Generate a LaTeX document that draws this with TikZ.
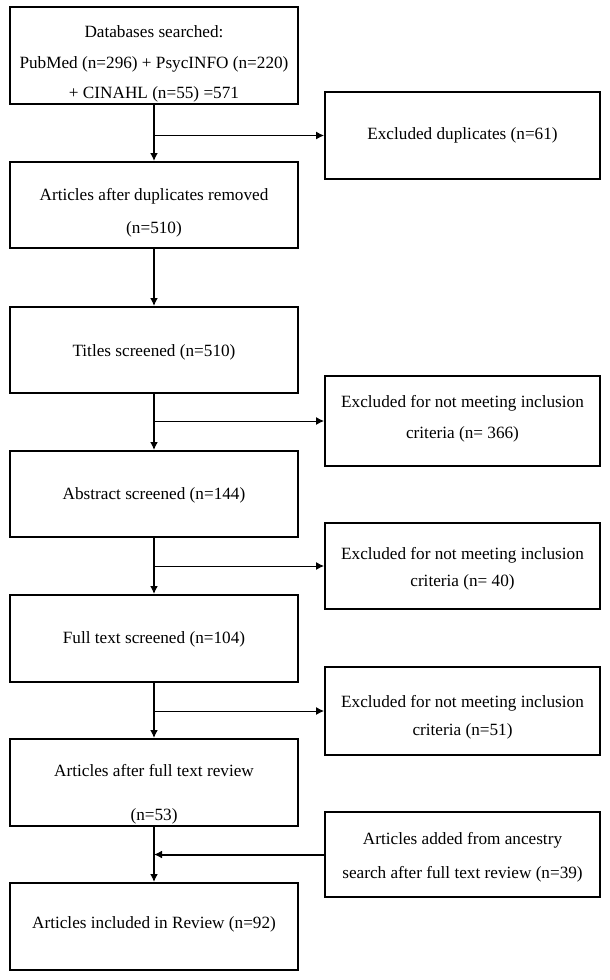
\documentclass[tikz,border=0pt]{standalone}
\usepackage{fontspec}
\setmainfont{Liberation Serif}
\usetikzlibrary{arrows.meta}
\tikzset{
  box/.style={draw=black, line width=2pt, rectangle, inner sep=0pt},
  lbox/.style={box, minimum width=288pt},
  rbox/.style={box, minimum width=275pt},
  txt/.style={anchor=base, inner sep=0pt, font=\fontsize{17.2}{20}\selectfont},
  vline/.style={line width=2pt, -{Latex[length=8pt,width=8pt]}},
  hline/.style={line width=1pt, -{Latex[length=8pt,width=8pt]}},
}
\begin{document}
\begin{tikzpicture}[x=1pt,y=-1pt]
\useasboundingbox[fill=white] (0,0) rectangle (610,980);
% left column
\node[lbox, minimum height=97pt] (b1) at (154,55.5) {};
\node[lbox, minimum height=86pt] (b2) at (154,205) {};
\node[lbox, minimum height=86pt] (b3) at (154,350) {};
\node[lbox, minimum height=86pt] (b4) at (154,494) {};
\node[lbox, minimum height=87pt] (b5) at (154,638.5) {};
\node[lbox, minimum height=87pt] (b6) at (154,782.5) {};
\node[lbox, minimum height=87pt] (b7) at (154,926.5) {};
% right column
\node[rbox, minimum height=87pt] (r1) at (462.5,135.5) {};
\node[rbox, minimum height=90pt] (r2) at (462.5,421) {};
\node[rbox, minimum height=86pt] (r3) at (462.5,566) {};
\node[rbox, minimum height=88pt] (r4) at (462.5,711) {};
\node[rbox, minimum height=85pt] (r5) at (462.5,854.5) {};
% texts
\node[txt] (t1a) at (154,37) {Databases searched:};
\node[txt] (t1b) at (154,68) {PubMed (n=296) + PsycINFO (n=220)};
\node[txt] (t1c) at (154,98) {+ CINAHL (n=55) =571};
\node[txt] (t2a) at (154,200) {Articles after duplicates removed};
\node[txt] (t2b) at (154,233) {(n=510)};
\node[txt] (t3) at (154,356) {Titles screened (n=510)};
\node[txt] (t4) at (154,499) {Abstract screened (n=144)};
\node[txt] (t5) at (154,643) {Full text screened (n=104)};
\node[txt] (t6a) at (154,776) {Articles after full text review};
\node[txt] (t6b) at (154,820) {(n=53)};
\node[txt] (t7) at (154,928) {Articles included in Review (n=92)};
\node[txt] (s1) at (462.5,139) {Excluded duplicates (n=61)};
\node[txt] (s2a) at (462.5,407) {Excluded for not meeting inclusion};
\node[txt] (s2b) at (462.5,438) {criteria (n= 366)};
\node[txt] (s3a) at (462.5,559) {Excluded for not meeting inclusion};
\node[txt] (s3b) at (462.5,586) {criteria (n= 40)};
\node[txt] (s4a) at (462.5,707) {Excluded for not meeting inclusion};
\node[txt] (s4b) at (462.5,735) {criteria (n=51)};
\node[txt] (s5a) at (462.5,844) {Articles added from ancestry};
\node[txt] (s5b) at (462.5,878) {search after full text review (n=39)};
% vertical connectors
\draw[vline] (b1.south) -- (b2.north);
\draw[vline] (b2.south) -- (b3.north);
\draw[vline] (b3.south) -- (b4.north);
\draw[vline] (b4.south) -- (b5.north);
\draw[vline] (b5.south) -- (b6.north);
\draw[vline] (b6.south) -- (b7.north);
% horizontal connectors
\draw[hline] (b1.south |- r1.west) -- (r1.west);
\draw[hline] (b3.south |- r2.west) -- (r2.west);
\draw[hline] (b4.south |- r3.west) -- (r3.west);
\draw[hline] (b5.south |- r4.west) -- (r4.west);
\draw[line width=2pt, -{Latex[length=8pt,width=8pt]}] (r5.west) -- (b6.south |- r5.west);
\end{tikzpicture}
\end{document}
